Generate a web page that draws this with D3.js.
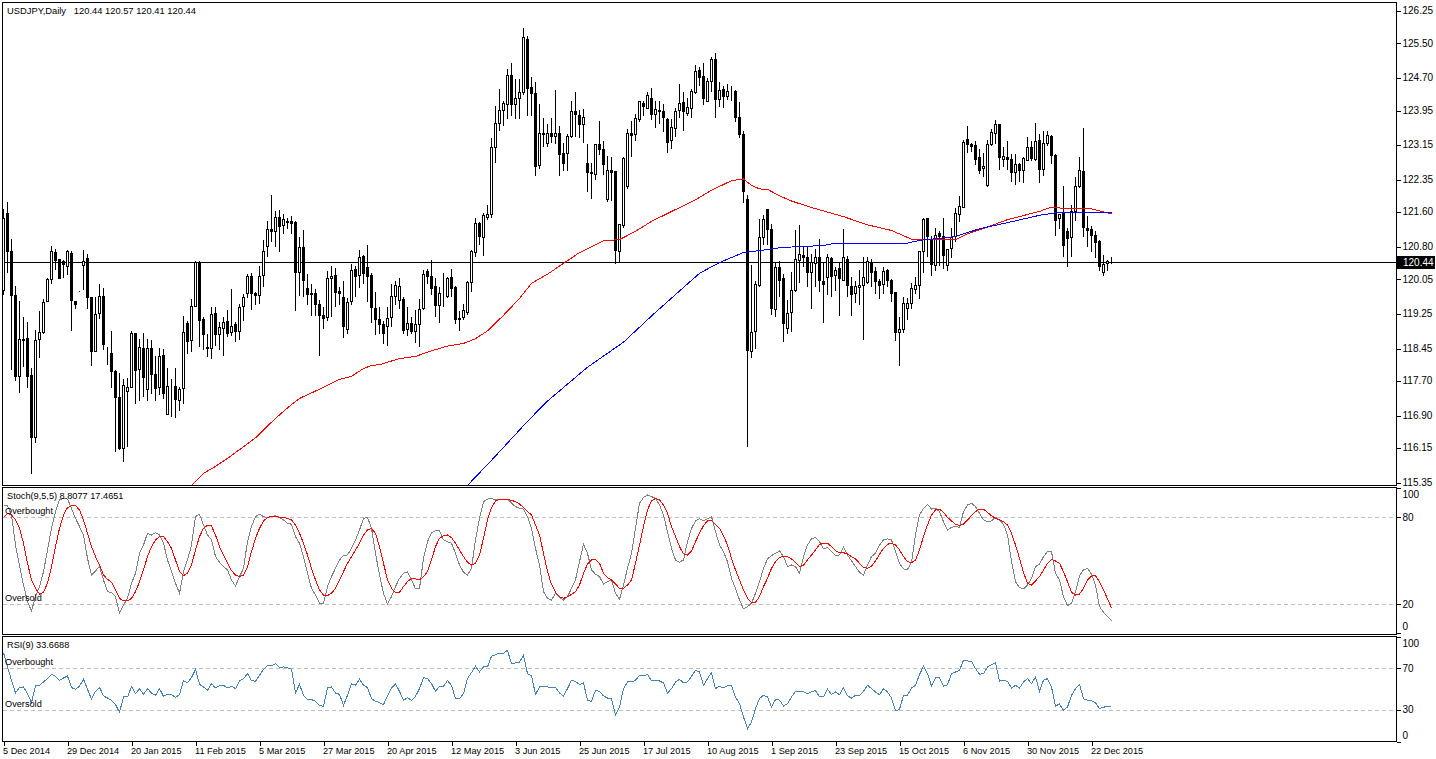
<!DOCTYPE html>
<html>
<head>
<meta charset="utf-8">
<script src="https://d3js.org/d3.v7.min.js"></script>
<style>
    html, body { margin: 0; padding: 0; background: #fff; }
    svg { display: block; }
    text { font-family: "Liberation Sans", Arial, sans-serif; font-size: 9.2px; fill: #000; }
</style>
</head>
<body>
<div id="chart"></div>
<script>
var opens = [
    119.80,121.57,120.69,119.68,117.80,118.66,118.69,117.82,116.40,118.66,
    118.82,119.54,120.05,120.68,120.51,120.46,120.35,120.65,119.54,119.78,
    120.37,120.53,119.62,118.38,119.26,119.66,118.34,118.34,117.92,117.33,
    116.15,117.46,117.56,118.80,117.97,118.46,117.51,118.46,117.86,117.56,
    118.29,116.93,117.56,117.57,117.25,117.53,119.03,118.63,119.42,120.44,
    119.12,118.48,118.46,119.26,118.77,118.91,119.08,118.82,119.00,118.84,
    119.42,119.72,120.12,119.72,119.67,120.13,120.80,121.20,121.15,121.48,
    121.29,121.39,121.39,121.37,120.22,120.79,119.85,119.72,119.72,119.48,
    119.22,119.16,120.07,120.14,119.76,119.63,118.89,119.54,120.28,120.14,
    120.59,120.32,120.14,119.38,119.12,119.01,118.97,119.17,119.66,119.57,
    119.59,118.89,119.03,118.84,119.01,119.37,120.24,120.12,119.88,119.44,
    119.72,119.65,120.09,119.86,119.15,119.16,119.28,119.98,120.66,121.34,
    121.01,121.49,121.54,123.09,123.65,123.94,124.09,124.76,124.08,124.24,
    124.36,125.59,124.48,124.34,122.68,123.42,123.20,123.42,123.36,123.42,
    122.96,122.96,123.34,123.92,123.83,123.62,122.72,122.52,122.47,123.16,
    123.05,121.90,122.56,122.54,120.69,121.29,122.19,123.42,123.39,123.74,
    124.12,124.00,124.24,123.87,123.96,123.93,123.75,123.26,123.53,123.94,
    124.14,123.89,124.00,124.36,124.87,124.74,124.16,124.61,125.12,124.20,
    124.43,124.28,124.39,124.39,123.79,123.39,121.89,118.38,118.84,119.90,
    121.02,121.66,121.20,119.36,120.32,120.07,118.91,119.29,119.80,120.49,
    120.60,120.56,120.22,120.42,120.56,120.01,120.09,120.53,120.15,120.29,
    120.03,120.51,119.89,119.72,119.86,119.92,119.97,120.43,120.23,120.00,
    119.93,120.26,120.03,119.75,118.82,118.89,119.37,119.49,119.82,119.90,
    120.69,121.46,120.97,120.36,121.11,121.03,120.36,120.76,121.03,121.56,
    121.72,123.29,123.16,123.15,122.86,122.60,122.22,123.17,123.43,123.62,
    122.83,122.86,122.82,122.52,122.70,122.56,122.80,123.09,122.82,123.26,
    122.59,123.18,123.36,122.92,121.45,121.59,121.16,121.01,121.61,122.20,
    122.54,121.23,121.20,121.06,120.93,120.22,120.42,120.44
];
var highs = [
    121.69,121.86,120.99,119.92,119.57,119.20,119.07,118.02,118.89,119.32,
    119.61,120.09,120.83,120.76,120.52,120.51,120.74,120.71,119.57,119.79,
    120.74,120.65,119.63,119.66,119.96,119.86,118.49,118.86,117.96,117.91,
    117.75,117.79,118.88,118.83,118.69,118.83,118.69,118.67,118.30,118.47,
    118.45,118.01,117.75,118.01,117.57,119.22,119.09,119.61,120.48,120.48,
    119.19,118.79,119.42,119.42,119.07,119.19,119.36,119.84,119.07,119.49,
    119.72,120.19,120.20,119.76,120.38,120.96,121.42,122.02,121.63,121.67,
    121.57,121.48,121.53,121.40,121.03,121.21,120.19,119.96,119.85,119.59,
    119.42,120.26,120.38,120.32,119.89,120.03,119.63,120.42,120.36,120.74,
    120.63,120.86,120.22,119.76,119.42,119.11,119.43,119.96,120.03,120.09,
    119.66,119.42,119.20,119.36,119.61,120.28,120.30,120.52,120.09,119.88,
    120.22,120.12,120.29,119.92,119.34,119.49,120.02,120.74,121.48,121.38,
    121.59,121.79,123.32,124.07,124.46,124.19,124.92,125.06,124.69,124.69,
    125.86,125.69,124.74,124.62,124.11,123.80,123.65,123.79,124.43,123.61,
    123.22,123.42,124.19,124.39,123.97,123.99,123.19,122.76,123.19,123.72,
    123.26,122.92,122.89,122.56,121.34,122.89,123.53,123.72,123.88,124.19,
    124.19,124.40,124.48,124.19,124.19,124.11,123.80,123.76,124.02,124.57,
    124.38,124.25,124.46,125.02,124.96,125.06,124.72,125.20,125.29,124.62,
    124.53,124.57,124.53,124.44,124.15,123.48,122.02,120.40,120.03,121.46,
    121.56,121.69,121.34,120.46,120.48,120.19,119.59,120.24,121.20,121.32,
    120.84,120.84,120.65,120.76,120.99,120.46,120.65,120.59,120.34,120.46,
    121.22,120.60,120.11,120.03,120.28,120.57,120.57,120.53,120.34,120.07,
    120.34,120.30,120.07,119.78,119.19,119.65,119.63,119.97,120.11,120.72,
    121.48,121.48,121.07,121.25,121.19,121.48,120.76,121.26,121.71,121.99,
    123.28,123.61,123.22,123.26,123.07,122.99,123.28,123.53,123.75,123.63,
    123.11,123.26,122.96,122.96,122.76,122.88,123.34,123.26,123.67,123.42,
    123.48,123.49,123.40,122.96,121.57,122.22,121.26,121.79,122.43,122.89,
    123.56,121.53,121.30,121.17,120.97,120.63,120.51,120.57
];
var lows = [
    119.69,120.20,117.96,117.71,117.44,118.03,117.56,115.57,116.28,118.24,
    118.80,119.53,119.96,120.28,120.06,120.09,120.16,118.86,119.37,119.77,
    119.82,119.37,118.06,118.38,119.15,118.42,118.08,117.55,116.07,116.13,
    115.84,116.19,117.55,117.18,117.25,117.34,117.26,117.42,117.25,117.39,
    117.29,116.92,116.88,116.86,117.02,117.19,118.34,118.38,119.42,118.49,
    118.42,118.26,118.22,118.53,118.43,118.29,118.72,118.75,118.61,118.65,
    119.11,119.63,119.36,119.46,119.49,119.88,120.59,120.92,120.80,120.69,
    121.11,121.22,121.11,119.32,119.68,119.66,119.46,119.21,119.22,118.30,
    118.91,119.11,119.19,119.42,119.46,118.70,118.79,119.46,119.65,119.86,
    119.96,119.53,119.05,118.77,118.79,118.57,118.52,118.96,119.46,119.38,
    118.80,118.76,118.80,118.59,118.49,119.36,119.96,119.71,119.20,119.05,
    119.42,119.63,119.65,119.02,118.86,119.12,119.25,119.76,120.57,120.86,
    120.61,121.43,121.49,122.76,123.49,123.61,123.76,123.84,123.76,123.76,
    124.32,123.84,123.84,122.44,122.61,123.12,123.12,123.22,123.19,122.46,
    122.56,122.56,123.32,123.34,123.32,123.22,122.09,121.93,122.36,122.94,
    122.48,121.86,121.88,120.42,120.44,121.26,122.16,122.89,123.25,123.69,
    123.84,123.99,123.74,123.55,123.65,123.46,122.99,123.07,123.34,123.80,
    123.49,123.84,123.79,124.34,124.52,124.09,124.15,124.38,123.78,124.05,
    124.03,124.20,124.19,123.69,123.32,121.82,116.19,118.25,118.46,119.88,
    120.86,120.86,119.25,119.20,119.65,118.61,118.80,118.84,119.76,119.97,
    120.34,119.88,119.38,119.88,119.78,119.05,119.71,119.65,119.80,119.21,
    120.02,119.65,119.22,119.52,119.48,118.67,119.96,119.88,119.72,119.61,
    119.72,119.88,119.53,118.63,118.05,118.82,119.12,119.38,119.72,119.61,
    120.22,120.59,120.15,120.25,120.38,120.30,120.25,120.56,120.92,121.38,
    121.71,122.98,123.00,122.71,122.49,122.43,122.20,123.15,123.20,122.59,
    122.65,122.59,122.30,122.25,122.30,122.28,122.79,122.79,122.80,122.28,
    122.46,123.15,122.72,121.07,121.22,120.57,120.34,120.57,121.42,122.17,
    121.05,120.82,120.70,120.55,120.26,120.15,120.25,120.41
];
var closes = [
    121.46,120.69,119.67,117.80,118.66,118.63,117.80,116.39,118.64,118.82,
    119.52,120.05,120.69,120.48,120.08,120.39,120.69,119.56,119.46,119.78,
    120.46,119.62,118.38,119.24,119.66,118.54,118.34,117.92,117.33,116.15,
    117.60,117.56,118.80,117.94,118.48,117.78,118.46,117.85,117.52,118.27,
    117.42,117.57,117.56,117.28,117.51,118.82,118.61,119.42,120.44,119.09,
    118.77,118.45,119.24,118.77,118.94,119.05,118.80,118.97,118.84,119.40,
    119.63,120.12,119.72,119.68,120.12,120.69,121.20,121.15,121.48,121.28,
    121.43,121.36,121.33,120.22,120.79,120.02,119.69,119.69,119.46,119.21,
    119.14,120.07,120.12,119.74,119.72,118.96,119.51,120.26,120.11,120.56,
    120.19,120.11,119.40,119.12,119.01,118.79,119.15,119.66,119.91,119.88,
    118.86,119.02,118.84,119.01,119.36,120.16,120.11,119.83,119.44,119.72,
    119.72,120.07,119.83,119.13,119.12,119.34,119.98,120.69,121.34,121.03,
    121.52,121.55,123.09,123.65,123.94,124.11,124.76,124.09,124.22,124.36,
    125.63,124.47,124.34,122.65,123.42,123.39,123.42,123.34,123.42,122.94,
    122.72,123.36,123.92,123.85,123.62,123.79,122.53,122.49,123.16,123.06,
    122.71,122.56,122.53,120.71,121.32,122.84,123.42,123.38,123.76,124.16,
    124.05,124.30,123.86,123.97,123.92,123.78,123.22,123.56,123.92,124.12,
    123.92,124.02,124.39,124.86,124.72,124.22,124.62,125.12,124.20,124.42,
    124.28,124.39,124.39,123.78,123.40,122.09,118.40,118.82,119.93,121.02,
    121.43,121.21,119.37,120.32,120.03,119.03,119.26,119.79,120.51,120.62,
    120.56,120.22,120.43,120.56,120.02,119.94,120.56,120.12,120.26,120.06,
    120.56,119.90,119.71,119.89,119.91,120.09,120.46,120.20,119.99,119.92,
    120.23,120.02,119.72,118.82,118.89,119.49,119.49,119.84,119.92,120.69,
    121.43,121.03,120.39,121.07,121.05,120.61,120.74,121.02,121.57,121.74,
    123.22,123.16,123.13,122.82,122.57,122.66,123.17,123.44,123.62,122.86,
    122.89,122.82,122.51,122.70,122.56,122.84,123.09,122.84,123.23,122.59,
    123.19,123.38,122.92,121.42,121.54,120.84,121.00,121.61,122.19,122.56,
    121.25,121.17,121.06,120.91,120.34,120.39,120.46,120.44
];

// slow and fast moving averages, read at the bars where the curve bends
var maRedBars = [47,50,53,57,63,68,72,74,78,84,87,90,92,94,99,103,106,111,115,118,121,125,129,132,136,140,144,147,150,154,158,162,173,177,182,185,187,189,191,194,197,202,210,216,222,227,230,238,241,246,251,259,262,265,272,277];
var maRedPrices = [115.29,115.57,115.73,115.98,116.39,116.84,117.16,117.30,117.47,117.74,117.81,117.99,118.06,118.08,118.22,118.27,118.37,118.51,118.57,118.68,118.86,119.22,119.61,119.96,120.17,120.42,120.67,120.80,120.94,120.97,121.16,121.39,121.89,122.11,122.33,122.37,122.22,122.14,122.13,121.98,121.86,121.71,121.50,121.31,121.18,120.98,120.98,120.97,121.10,121.26,121.43,121.62,121.72,121.69,121.68,121.56];
var maBlueBars = [116,122,131,136,146,155,163,174,179,185,191,194,199,205,207,222,225,229,233,238,244,251,259,263,277];
var maBluePrices = [115.29,115.87,116.77,117.24,118.02,118.60,119.29,120.19,120.44,120.67,120.74,120.78,120.81,120.83,120.87,120.87,120.87,120.95,120.99,121.04,121.22,121.36,121.53,121.59,121.59];

var stochMain = [
    88.0,88.0,81.6,60.9,47.1,33.3,21.8,15.4,25.3,32.2,
    42.5,57.5,72.4,83.9,92.0,93.1,92.6,86.2,79.3,73.6,
    67.8,51.7,40.2,43.0,46.0,36.8,28.7,28.0,25.3,13.8,
    19.5,24.1,34.5,41.4,55.2,60.9,69.0,67.8,69.4,67.8,
    62.1,50.6,42.5,34.5,27.6,42.5,50.6,60.9,80.5,82.1,
    74.7,67.8,64.4,52.9,49.0,46.0,43.7,36.8,32.6,39.1,
    44.8,63.2,73.6,80.5,82.1,80.5,79.8,80.5,81.1,80.0,
    78.2,75.9,75.2,66.7,62.1,52.9,41.4,31.0,26.4,20.7,
    20.7,32.2,39.1,44.8,50.6,53.6,54.0,58.6,64.4,71.3,
    79.3,80.0,72.4,55.2,40.2,27.6,20.2,25.3,32.2,37.9,
    41.4,42.5,36.8,30.6,31.0,51.7,63.2,69.4,70.8,70.8,
    64.4,63.2,62.1,55.2,47.1,42.1,40.2,
    44.8,64.4,79.3,90.8,92.6,93.1,92.0,92.2,92.0,92.6,
    89.7,87.4,86.2,85.7,80.5,72.4,58.6,47.1,28.7,24.1,
    22.8,27.6,24.6,23.0,25.3,31.0,36.8,49.4,61.4,55.2,
    43.7,40.7,39.1,34.0,35.6,36.8,27.6,23.4,33.3,44.8,
    55.2,72.4,89.7,93.6,95.4,94.3,93.1,88.5,81.6,70.1,
    58.6,50.6,49.0,50.6,63.2,72.4,77.5,78.9,77.7,78.9,
    80.5,70.1,60.9,56.3,49.4,37.9,31.0,23.0,16.8,18.4,
    20.7,27.6,35.6,44.8,51.3,53.6,55.2,56.8,52.9,46.0,
    47.1,46.0,41.4,52.9,60.9,65.1,66.2,63.2,58.2,59.3,
    56.3,53.6,54.0,59.3,54.0,49.9,46.0,42.1,40.2,47.1,
    52.9,55.2,60.9,64.4,65.1,64.4,56.3,48.3,44.4,44.1,
    49.0,67.8,81.6,86.2,89.0,85.7,86.2,83.9,77.0,71.3,
    73.1,73.6,73.1,83.9,88.5,89.7,87.4,82.8,78.2,77.0,
    77.5,80.0,78.2,75.2,67.8,49.4,35.6,31.5,30.6,33.3,
    37.9,46.0,47.6,52.9,56.3,56.3,41.4,36.8,25.3,19.1,
    20.7,28.7,39.8,43.7,44.8,40.7,33.3,18.4,14.5,11.5,8.81
];
var stochSignal = [
    80.0,82.8,81.6,78.2,72.4,62.1,48.3,36.8,31.0,27.1,
    28.3,34.5,46.0,59.8,72.4,81.6,86.7,88.0,88.0,85.1,
    78.2,69.0,59.8,52.9,47.1,40.2,37.2,35.2,29.9,24.1,
    22.3,22.3,24.1,28.7,35.6,43.7,52.9,59.8,64.4,66.7,
    66.7,63.2,58.6,50.6,42.5,39.8,41.4,47.1,57.5,66.7,
    72.4,74.5,74.0,67.8,59.8,54.0,48.3,43.2,40.2,39.1,
    40.2,46.0,56.3,65.5,72.4,77.5,79.8,80.7,80.7,80.0,
    79.8,79.3,78.2,74.7,69.0,62.1,54.0,44.8,36.8,29.9,
    26.4,26.0,27.6,31.0,36.8,42.5,48.3,52.9,57.5,62.1,
    67.8,71.3,72.2,69.0,59.8,48.3,36.8,31.0,28.3,28.3,
    32.2,35.6,37.9,37.5,36.8,39.1,42.5,50.6,59.8,65.5,
    67.4,67.8,66.0,62.1,57.5,52.9,49.0,
    47.1,48.3,54.0,65.5,78.2,86.7,91.3,92.2,92.4,92.4,
    91.7,90.8,89.2,86.7,83.9,81.6,74.7,67.8,55.2,42.5,
    33.8,28.3,25.3,24.1,25.1,26.9,28.7,33.3,41.4,47.8,
    50.6,51.0,48.3,41.4,38.4,36.8,34.0,31.0,31.0,33.3,
    36.8,48.3,60.9,73.6,85.1,91.3,93.1,92.0,88.5,82.8,
    73.6,66.7,59.8,54.7,54.0,56.8,63.2,69.0,74.3,77.5,
    77.9,75.2,72.4,67.4,60.9,51.7,43.7,36.8,29.9,24.1,
    21.4,21.4,25.3,32.2,37.9,44.8,49.4,52.2,53.3,52.9,
    51.3,49.0,46.0,47.1,50.6,54.0,57.5,61.4,62.1,62.1,
    59.8,57.0,55.6,55.6,54.7,52.9,51.3,48.3,45.3,44.8,
    46.4,49.9,54.5,58.6,61.4,62.1,60.9,57.5,52.9,49.4,
    48.7,50.6,57.5,66.7,74.7,81.6,85.1,85.7,83.4,80.0,
    77.5,75.2,74.3,75.2,78.2,81.1,83.9,85.7,85.7,83.4,
    81.1,79.3,78.2,77.0,74.7,69.0,60.9,51.7,42.1,34.5,
    33.3,36.1,39.1,43.7,48.3,51.0,49.9,48.3,42.5,35.6,
    28.3,26.4,27.1,31.0,36.8,39.5,39.8,35.6,29.9,23.7,17.47
];
var rsiValues = [
    84.9,71.3,58.6,46.5,51.6,52.2,45.9,37.3,53.2,53.8,
    57.0,60.2,64.3,62.4,58.6,60.8,62.7,51.6,50.0,52.9,
    59.5,50.0,40.5,48.1,51.9,43.7,41.7,39.5,35.4,28.1,
    42.7,42.7,52.5,45.9,50.6,45.2,50.6,46.5,44.3,50.6,
    43.3,45.2,45.2,42.1,44.9,58.3,56.3,61.1,69.0,54.8,
    52.2,49.0,55.4,51.3,53.2,53.8,51.3,52.9,50.6,57.9,
    60.2,64.9,58.3,57.6,63.3,69.0,72.9,72.2,74.4,70.6,
    71.3,70.6,69.0,46.5,54.8,44.3,40.2,40.2,38.6,34.8,
    33.8,51.3,52.2,46.5,45.2,34.8,44.3,55.4,53.8,59.5,
    53.8,51.6,41.1,38.6,37.3,35.4,43.7,51.3,55.1,48.1,
    39.5,42.1,39.5,43.3,50.6,61.1,60.2,55.4,48.1,52.9,
    52.9,58.3,53.8,41.1,41.1,45.9,60.2,
    65.9,71.9,66.5,71.3,71.3,81.4,83.0,84.3,84.3,87.1,
    74.1,75.1,76.0,82.4,64.9,62.7,45.2,52.2,52.2,52.2,
    51.3,51.6,46.5,43.7,50.6,58.6,57.6,54.4,56.0,39.5,
    38.6,49.0,48.1,43.7,41.7,41.1,25.9,33.2,50.6,57.0,
    57.0,58.6,63.3,62.7,64.3,57.9,58.6,57.9,56.0,46.5,
    50.6,57.0,59.5,56.3,57.0,62.4,68.1,66.5,53.8,60.2,
    65.9,50.6,52.9,51.3,53.2,53.2,42.7,36.3,23.7,12.5,
    18.9,31.6,41.1,44.3,42.7,33.2,40.2,39.8,34.1,36.3,
    42.7,48.1,48.1,47.5,45.6,47.5,48.7,42.7,42.7,50.0,
    45.2,47.5,44.9,51.6,43.7,41.7,44.3,44.3,48.1,53.8,
    50.6,47.5,44.9,50.6,47.5,41.7,29.4,31.0,44.3,44.3,
    51.3,53.8,64.0,71.9,64.9,53.2,61.1,61.1,52.9,54.4,
    64.9,66.5,68.1,77.6,77.0,76.7,69.7,64.3,64.9,71.3,
    73.5,75.1,57.9,58.3,57.6,51.3,53.8,51.3,57.0,60.2,
    55.4,61.7,48.1,58.6,60.2,52.2,34.1,36.0,30.0,33.2,
    44.3,50.6,54.8,41.1,39.5,38.9,37.3,31.6,32.9,33.8,33.67
];

var priceTicks = [126.25,125.50,124.70,123.95,123.15,122.35,121.60,120.80,120.05,119.25,118.45,117.70,116.90,116.15,115.35];
var stochTicks = [100, 80, 20, 0];
var rsiTicks = [100, 70, 30, 0];
var dateLabels = ["5 Dec 2014","29 Dec 2014","20 Jan 2015","11 Feb 2015","5 Mar 2015","27 Mar 2015","20 Apr 2015","12 May 2015","3 Jun 2015","25 Jun 2015","17 Jul 2015","10 Aug 2015","1 Sep 2015","23 Sep 2015","15 Oct 2015","6 Nov 2015","30 Nov 2015","22 Dec 2015"];
var lastPrice = 120.44;

var width = 1436, height = 759;
var plotLeft = 2.5, plotRight = 1396.5;

var svg = d3.select("#chart").append("svg")
    .attr("width", width)
    .attr("height", height)
    .attr("shape-rendering", "crispEdges");

var x = d3.scaleLinear().domain([0, 277]).range([3.5, 1111.5]);
var yPrice = d3.scaleLinear().domain([120.44, 126.25]).range([262.5, 11]);
var yStoch = d3.scaleLinear().domain([0, 100]).range([633.3, 488.3]);
var yRsi = d3.scaleLinear().domain([0, 100]).range([741.8, 636.8]);

function snap(v) {
    return Math.round(v - 0.5) + 0.5;
}

function panel(id, top, bottom) {
    svg.append("clipPath").attr("id", id)
        .append("rect")
        .attr("x", plotLeft).attr("y", top)
        .attr("width", plotRight - plotLeft).attr("height", bottom - top);
    var g = svg.append("g").attr("clip-path", "url(#" + id + ")");
    svg.append("rect")
        .attr("x", plotLeft).attr("y", top)
        .attr("width", plotRight - plotLeft).attr("height", bottom - top)
        .attr("fill", "none")
        .attr("stroke", "#000");
    return g;
}

// borders go on after the marks, so keep the groups and fill them below
var mainPanel = panel("clip-main", 2.5, 485.5);
var stochPanel = panel("clip-stoch", 487.5, 634.5);
var rsiPanel = panel("clip-rsi", 636.5, 741.5);

// ---- main panel ----
mainPanel.append("line")
    .attr("x1", plotLeft).attr("x2", plotRight)
    .attr("y1", snap(yPrice(lastPrice))).attr("y2", snap(yPrice(lastPrice)))
    .attr("stroke", "#000");

var bars = mainPanel.selectAll(".bar")
    .data(closes.map(function(c, i) { return i; }))
    .enter().append("g").attr("class", "bar");

bars.append("line")
    .attr("x1", function(i) { return x(i); })
    .attr("x2", function(i) { return x(i); })
    .attr("y1", function(i) { return snap(yPrice(highs[i])); })
    .attr("y2", function(i) { return snap(yPrice(lows[i])) + 0.5; })
    .attr("stroke", "#000");

bars.append("rect")
    .attr("x", function(i) { return x(i) - 1; })
    .attr("width", 2)
    .attr("y", function(i) { return snap(yPrice(Math.max(opens[i], closes[i]))); })
    .attr("height", function(i) { return snap(yPrice(Math.min(opens[i], closes[i]))) - snap(yPrice(Math.max(opens[i], closes[i]))); })
    .attr("fill", function(i) { return closes[i] > opens[i] ? "#fff" : "#000"; })
    .attr("stroke", "#000");

var maLine = d3.line()
    .x(function(d) { return x(d[0]); })
    .y(function(d) { return yPrice(d[1]); });

mainPanel.append("path")
    .datum(d3.zip(maRedBars, maRedPrices))
    .attr("d", maLine)
    .attr("fill", "none")
    .attr("stroke", "#f00");

mainPanel.append("path")
    .datum(d3.zip(maBlueBars, maBluePrices))
    .attr("d", maLine)
    .attr("fill", "none")
    .attr("stroke", "#00f");

// ---- indicator panels ----
function levels(g, scale, vals) {
    g.selectAll(".level")
        .data(vals)
        .enter().append("line")
        .attr("x1", plotLeft).attr("x2", plotRight)
        .attr("y1", function(d) { return snap(scale(d)); })
        .attr("y2", function(d) { return snap(scale(d)); })
        .attr("stroke", "#c0c0c0")
        .attr("stroke-dasharray", "4,3");
}

function series(g, scale, vals, color) {
    g.append("path")
        .datum(vals)
        .attr("d", d3.line()
            .x(function(d, i) { return x(i); })
            .y(function(d) { return scale(d); }))
        .attr("fill", "none")
        .attr("stroke", color)
        .attr("stroke-width", 1);
}

levels(stochPanel, yStoch, [80, 20]);
series(stochPanel, yStoch, stochMain, "#808080");
series(stochPanel, yStoch, stochSignal, "#f00");

levels(rsiPanel, yRsi, [70, 30]);
series(rsiPanel, yRsi, rsiValues, "#4682b4");

// ---- axes ----
function rightAxis(scale, ticks, fmt, shift) {
    var g = svg.append("g")
        .attr("transform", "translate(" + plotRight + ",0)")
        .call(d3.axisRight(scale).tickValues(ticks).tickFormat(fmt).tickSize(4).tickPadding(2));
    g.select(".domain").remove();
    g.selectAll("text")
        .style("font-size", "10px")
        .attr("dy", function(d) { return (3.2 + (shift[d] === undefined ? -0.5 : shift[d])) + "px"; });
    return g;
}

rightAxis(yPrice, priceTicks, d3.format(".2f"), {});
rightAxis(yStoch, stochTicks, d3.format("d"), {100: 6, 80: 0, 20: 0, 0: -7});
rightAxis(yRsi, rsiTicks, d3.format("d"), {100: 7, 70: -0.5, 30: -1, 0: -7});

var dateAxis = svg.append("g")
    .attr("transform", "translate(0,741.5)")
    .call(d3.axisBottom(x)
        .tickValues(dateLabels.map(function(d, i) { return i * 16; }))
        .tickFormat(function(d) { return dateLabels[d / 16]; })
        .tickSize(4)
        .tickPadding(2));
dateAxis.select(".domain").remove();
dateAxis.selectAll("text").attr("text-anchor", "start").attr("dx", "-1px");

// last price tag
svg.append("rect")
    .attr("x", plotRight + 0.5)
    .attr("y", yPrice(lastPrice) - 6.5)
    .attr("width", 38)
    .attr("height", 13)
    .attr("fill", "#000");
svg.append("text")
    .attr("x", plotRight + 6.5)
    .attr("y", yPrice(lastPrice))
    .attr("dy", "0.32em")
    .style("fill", "#fff")
    .style("font-size", "10px")
    .text(d3.format(".2f")(lastPrice));

// ---- captions ----
var captions = [
    ["USDJPY,Daily   120.44 120.57 120.41 120.44", 7, 11],
    ["Stoch(9,5,5) 8.8077 17.4651", 7, 496.5],
    ["RSI(9) 33.6688", 7, 645],
    ["Overbought", 5, 511.5],
    ["Oversold", 5, 598.5],
    ["Overbought", 5, 662.5],
    ["Oversold", 5, 704.5]
];
svg.selectAll(".caption")
    .data(captions)
    .enter().append("text")
    .attr("class", "caption")
    .style("white-space", "pre")
    .style("font-size", function(d, i) { return i === 0 ? "9.35px" : null; })
    .attr("x", function(d) { return d[1]; })
    .attr("y", function(d) { return d[2]; })
    .attr("dy", "0.32em")
    .text(function(d) { return d[0]; });
</script>
</body>
</html>
